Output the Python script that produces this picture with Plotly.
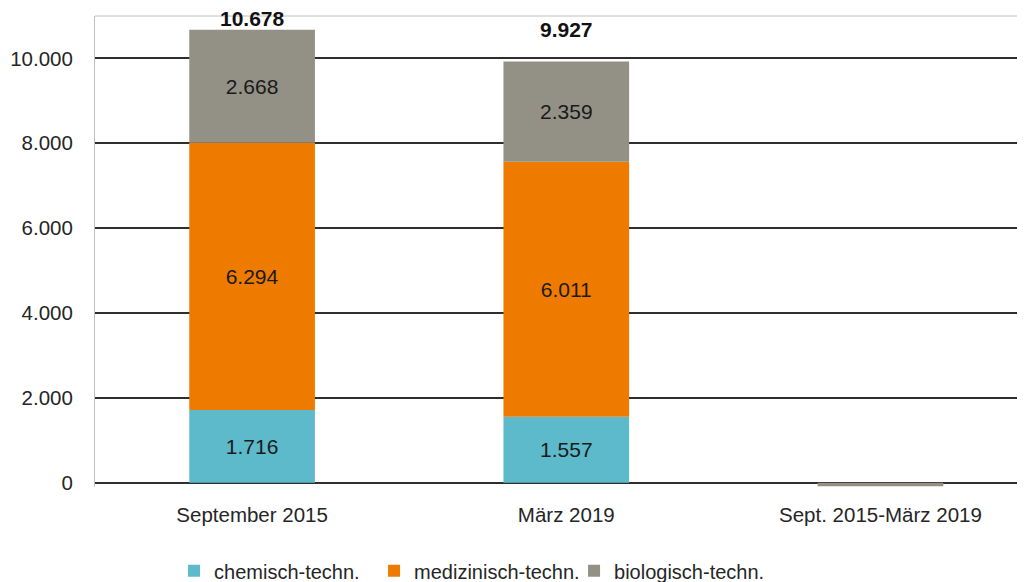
import plotly.graph_objects as go

categories = ["September 2015", "März 2019", "Sept. 2015-März 2019"]
chemisch = [1716, 1557, 0]
medizinisch = [6294, 6011, 0]
biologisch = [2668, 2359, -80]
totals = [10678, 9927]
series_names = ["chemisch-techn.", "medizinisch-techn.", "biologisch-techn."]
colors = ["#5CBACB", "#EE7B00", "#939185"]
tick_vals = [0, 2000, 4000, 6000, 8000, 10000]
tick_text = ["0", "2.000", "4.000", "6.000", "8.000", "10.000"]

FONT = "Liberation Sans, Arial"


def fmt(v):
    return f"{v:,}".replace(",", ".") if v > 0 else ""


fig = go.Figure()
for name, vals, col in zip(series_names, [chemisch, medizinisch, biologisch], colors):
    fig.add_trace(go.Bar(
        x=categories, y=vals, name=name, marker=dict(color=col, line=dict(width=0)),
        text=[fmt(v) for v in vals], textposition="inside", insidetextanchor="middle",
        textfont=dict(size=21, color="#1a1a1a", family=FONT), textangle=0,
        hoverinfo="skip",
    ))

shifts = [11, 32]
for cat, tot, s in zip(categories, totals, shifts):
    fig.add_annotation(x=cat, y=tot, text=f"<b>{fmt(tot)}</b>", showarrow=False,
                       yanchor="middle", yshift=s,
                       font=dict(size=21, color="#111111", family=FONT))

fig.update_layout(
    width=1025, height=582,
    margin=dict(l=87, r=8, t=8, b=103, autoexpand=False),
    barmode="relative", bargap=0.6,
    plot_bgcolor="white", paper_bgcolor="white",
    separators=",.",
    font=dict(family=FONT, size=20, color="#262626"),
    showlegend=True,
    legend=dict(orientation="h", x=0.085, xanchor="left", y=-0.178, yanchor="middle",
                font=dict(size=20, color="#262626", family=FONT),
                itemwidth=30, entrywidth=155, entrywidthmode="pixels",
                traceorder="normal"),
    xaxis=dict(range=[-0.5, 2.46], showgrid=False, showline=False, automargin=False,
               ticks="outside", ticklen=9, tickcolor="rgba(0,0,0,0)",
               tickfont=dict(size=20.5, color="#262626", family=FONT)),
    yaxis=dict(range=[-100, 11000], tickvals=tick_vals, ticktext=tick_text,
               automargin=False,
               showgrid=True, gridcolor="#2e2e2e", gridwidth=1.5,
               zeroline=True, zerolinecolor="#2e2e2e", zerolinewidth=2,
               showline=True, linecolor="#c0c0c0", linewidth=1,
               ticks="outside", ticklen=5, tickcolor="rgba(0,0,0,0)",
               ticklabelstandoff=12,
               tickfont=dict(size=20.5, color="#262626", family=FONT)),
    shapes=[dict(type="line", xref="paper", yref="paper", x0=0, x1=1, y0=1, y1=1,
                 line=dict(color="#c0c0c0", width=1))],
)

fig.write_html("out.html")
